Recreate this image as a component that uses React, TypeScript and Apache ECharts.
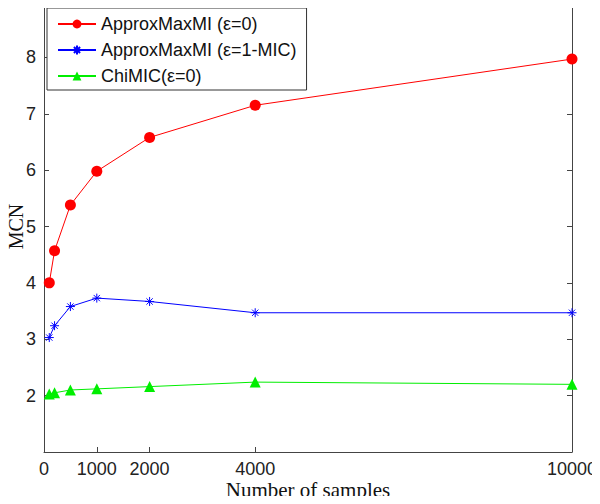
import React, { useEffect, useRef } from "react";
import * as echarts from "echarts";

const sampleSizes = [100, 200, 500, 1000, 2000, 4000, 10000];
const approxEps0 = [4.0, 4.57, 5.38, 5.98, 6.58, 7.15, 7.97];
const approxEps1MIC = [3.03, 3.24, 3.58, 3.73, 3.67, 3.47, 3.47];
const chiMIC = [2.03, 2.05, 2.1, 2.12, 2.16, 2.24, 2.2];
const xTicks = [0, 1000, 2000, 4000, 10000];
const yTicks = [2, 3, 4, 5, 6, 7, 8];

const seriesNames = ["ApproxMaxMI (ε=0)", "ApproxMaxMI (ε=1-MIC)", "ChiMIC(ε=0)"];

const starPath =
  "path://M0,-5L0,5M-5,0L5,0M-3.5,-3.5L3.5,3.5M-3.5,3.5L3.5,-3.5";

export default function App() {
  const ref = useRef<HTMLDivElement>(null);
  useEffect(() => {
    if (!ref.current) return;
    const chart = echarts.init(ref.current, null, { renderer: "svg" });
    const pairs = (ys: number[]) => sampleSizes.map((x, i) => [x, ys[i]]);
    const tickFont = { fontFamily: "Liberation Sans", fontSize: 18, color: "#222" };
    const axisLine = { show: true, onZero: false, lineStyle: { color: "#444", width: 1 } };
    chart.setOption({
      animation: false,
      backgroundColor: "#fff",
      grid: { left: 44, right: 28, top: 1, bottom: 52, outerBoundsMode: "none", containLabel: false },
      legend: {
        orient: "vertical",
        left: 47,
        top: 8,
        itemWidth: 38,
        itemHeight: 11,
        itemGap: 8,
        padding: [7, 10, 5, 10],
        borderColor: "#333",
        borderWidth: 1,
        backgroundColor: "#fff",
        textStyle: { fontFamily: "Liberation Sans", fontSize: 18, color: "#111" },
        data: seriesNames,
      },
      xAxis: [
        {
          type: "value",
          min: 0,
          max: 10000,
          position: "bottom",
          name: "Number of samples",
          nameLocation: "middle",
          nameGap: 27,
          nameMoveOverlap: false,
          nameTextStyle: { fontFamily: "Liberation Serif", fontSize: 21, color: "#111" },
          axisLine,
          axisTick: { show: true, inside: true, length: 5, customValues: xTicks, lineStyle: { color: "#444" } },
          axisLabel: { ...tickFont, margin: 8, customValues: xTicks, formatter: (v: number) => String(v) },
          splitLine: { show: false },
        },
        {
          type: "value",
          min: 0,
          max: 10000,
          position: "top",
          axisLine,
          axisTick: { show: true, inside: true, length: 5, customValues: xTicks, lineStyle: { color: "#444" } },
          axisLabel: { show: false },
          splitLine: { show: false },
        },
      ],
      yAxis: [
        {
          type: "value",
          min: 1,
          max: 9,
          interval: 1,
          position: "left",
          name: "MCN",
          nameLocation: "middle",
          nameGap: 18,
          nameMoveOverlap: false,
          nameTextStyle: { fontFamily: "Liberation Serif", fontSize: 20, color: "#111" },
          axisLine,
          axisTick: { show: true, inside: true, length: 5, customValues: yTicks, lineStyle: { color: "#444" } },
          axisLabel: { ...tickFont, margin: 8, customValues: yTicks },
          splitLine: { show: false },
        },
        {
          type: "value",
          min: 1,
          max: 9,
          interval: 1,
          position: "right",
          axisLine,
          axisTick: { show: true, inside: true, length: 5, customValues: yTicks, lineStyle: { color: "#444" } },
          axisLabel: { show: false },
          splitLine: { show: false },
        },
      ],
      series: [
        {
          name: seriesNames[0],
          type: "line",
          data: pairs(approxEps0),
          symbol: "circle",
          symbolSize: 11,
          lineStyle: { color: "#ff0000", width: 1 },
          itemStyle: { color: "#ff0000" },
        },
        {
          name: seriesNames[1],
          type: "line",
          data: pairs(approxEps1MIC),
          symbol: starPath,
          symbolSize: 9,
          lineStyle: { color: "#0000ff", width: 1 },
          itemStyle: { color: "#0000ff", borderColor: "#0000ff", borderWidth: 1 },
        },
        {
          name: seriesNames[2],
          type: "line",
          data: pairs(chiMIC),
          symbol: "triangle",
          symbolSize: 11,
          lineStyle: { color: "#00ee00", width: 1 },
          itemStyle: { color: "#00ee00" },
        },
      ],
    });
    return () => chart.dispose();
  }, []);
  return <div ref={ref} style={{ width: 600, height: 504, margin: -8 }} />;
}
